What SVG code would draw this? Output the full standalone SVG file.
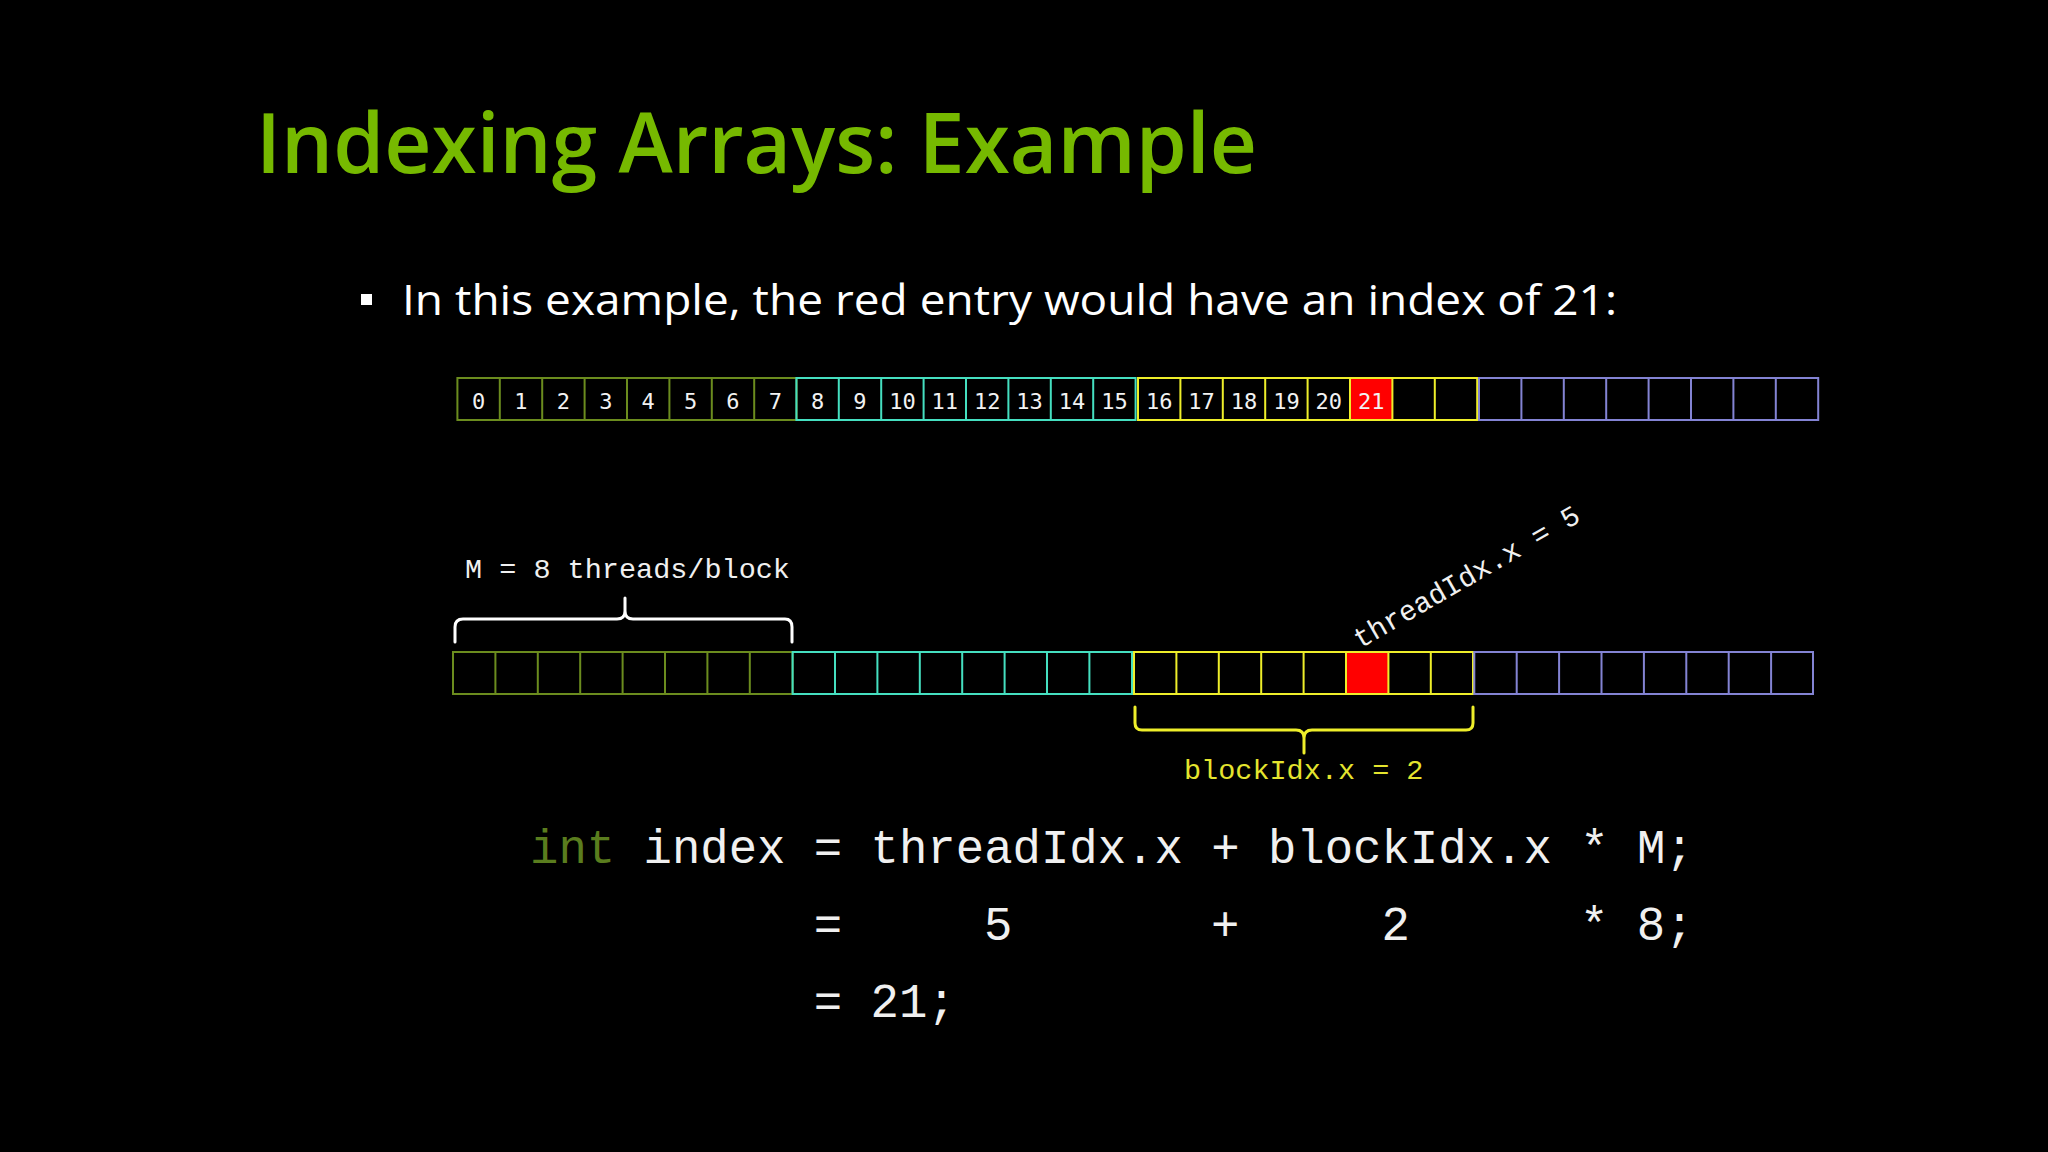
<svg xmlns="http://www.w3.org/2000/svg" width="2048" height="1152" viewBox="0 0 2048 1152">
<style>
.bg{fill:#000}
.cell{fill:none;stroke-width:2}
.g{stroke:#6b8c1e}
.c{stroke:#45dfc0}
.y{stroke:#eeee2a}
.p{stroke:#8383d3}
.dig{font-family:"DejaVu Sans Mono",monospace;font-size:22px;fill:#f2f2f2;text-anchor:middle}
.mono{font-family:"Liberation Mono","Courier New",monospace;fill:#f0f0f0}
.code{font-size:47.3px}
.lbl{font-size:28.5px}
.brace{fill:none;stroke-width:3;stroke-linecap:round;stroke-linejoin:round}
</style>
<defs>
<path id="grid" d="M42.4,0v42M84.8,0v42M127.2,0v42M169.6,0v42M212,0v42M254.4,0v42M296.8,0v42"/>
</defs>
<rect class="bg" x="0" y="0" width="2048" height="1152"/>
<g id="title"><text x="256" y="173" font-family="'Open Sans','Noto Sans',sans-serif" font-weight="600" font-size="84" fill="#76b900" textLength="1001" lengthAdjust="spacingAndGlyphs">Indexing Arrays: Example</text></g>
<g id="bullet"><rect x="361" y="294" width="11" height="11" fill="#fff"/>
<text x="402" y="315" font-family="'Open Sans','Noto Sans',sans-serif" font-size="42" fill="#fff" textLength="1215" lengthAdjust="spacingAndGlyphs">In this example, the red entry would have an index of 21:</text></g>

<g id="top-row">
<g id="top-block0" transform="translate(457.4,378)">
<rect class="cell g" x="0" y="0" width="339.2" height="42"/><use href="#grid" class="cell g"/>
<g class="dig"><text x="21.2" y="31">0</text><text x="63.6" y="31">1</text><text x="106" y="31">2</text><text x="148.4" y="31">3</text><text x="190.8" y="31">4</text><text x="233.2" y="31">5</text><text x="275.6" y="31">6</text><text x="318" y="31">7</text></g>
</g>
<g id="top-block1" transform="translate(796.4,378)">
<rect class="cell c" x="0" y="0" width="339.2" height="42"/><use href="#grid" class="cell c"/>
<g class="dig"><text x="21.2" y="31">8</text><text x="63.6" y="31">9</text><text x="106" y="31">10</text><text x="148.4" y="31">11</text><text x="190.8" y="31">12</text><text x="233.2" y="31">13</text><text x="275.6" y="31">14</text><text x="318" y="31">15</text></g>
</g>
<g id="top-block2" transform="translate(1138,378)">
<rect x="212" y="0" width="42.4" height="42" fill="#ff0000"/>
<rect class="cell y" x="0" y="0" width="339.2" height="42"/><use href="#grid" class="cell y"/>
<g class="dig"><text x="21.2" y="31">16</text><text x="63.6" y="31">17</text><text x="106" y="31">18</text><text x="148.4" y="31">19</text><text x="190.8" y="31">20</text><text x="233.2" y="31">21</text></g>
</g>
<g id="top-block3" transform="translate(1479,378)">
<rect class="cell p" x="0" y="0" width="339.2" height="42"/><use href="#grid" class="cell p"/>
</g>
</g>

<g id="bottom-row">
<g id="bot-block0" transform="translate(453,652)">
<rect class="cell g" x="0" y="0" width="339.6" height="42"/><use href="#grid" class="cell g"/>
</g>
<g id="bot-block1" transform="translate(792.6,652)">
<rect class="cell c" x="0" y="0" width="339.4" height="42"/><use href="#grid" class="cell c"/>
</g>
<g id="bot-block2" transform="translate(1134,652)">
<rect x="212" y="0" width="42.4" height="42" fill="#ff0000"/>
<rect class="cell y" x="0" y="0" width="339" height="42"/><use href="#grid" class="cell y"/>
</g>
<g id="bot-block3" transform="translate(1474.3,652)">
<rect class="cell p" x="0" y="0" width="338.7" height="42"/><use href="#grid" class="cell p"/>
</g>
</g>

<g id="connectors">
<path class="brace" stroke="#fff" d="M455,642 L455,627 Q455,619 463,619 L617,619 Q625,619 625,611 L625,598 M625,611 Q625,619 633,619 L785,619 Q792,619 792,627 L792,642"/>
<path class="brace" stroke="#eeee2a" d="M1135,707 L1135,723 Q1135,730 1142,730 L1296,730 Q1304,730 1304,738 L1304,753 M1304,738 Q1304,730 1312,730 L1466,730 Q1473,730 1473,723 L1473,707"/>
</g>

<g id="label-m"><text class="mono lbl" x="465" y="578">M = 8 threads/block</text></g>
<g id="label-thread"><text class="mono lbl" transform="translate(1360,649) rotate(-30)" font-size="28">threadIdx.x = 5</text></g>
<g id="label-block"><text class="mono lbl" x="1184" y="779" style="fill:#e4e42e">blockIdx.x = 2</text></g>

<g id="code" class="mono code">
<text x="530" y="863"><tspan style="fill:#5a7d1e">int</tspan> index = threadIdx.x + blockIdx.x * M;</text>
<text x="813.8" y="940">=</text>
<text x="984.1" y="940">5</text>
<text x="1211.1" y="940">+</text>
<text x="1381.4" y="940">2</text>
<text x="1580.1" y="940">* 8;</text>
<text x="813.8" y="1017">=</text>
<text x="870.6" y="1017">21;</text>
</g>
</svg>
